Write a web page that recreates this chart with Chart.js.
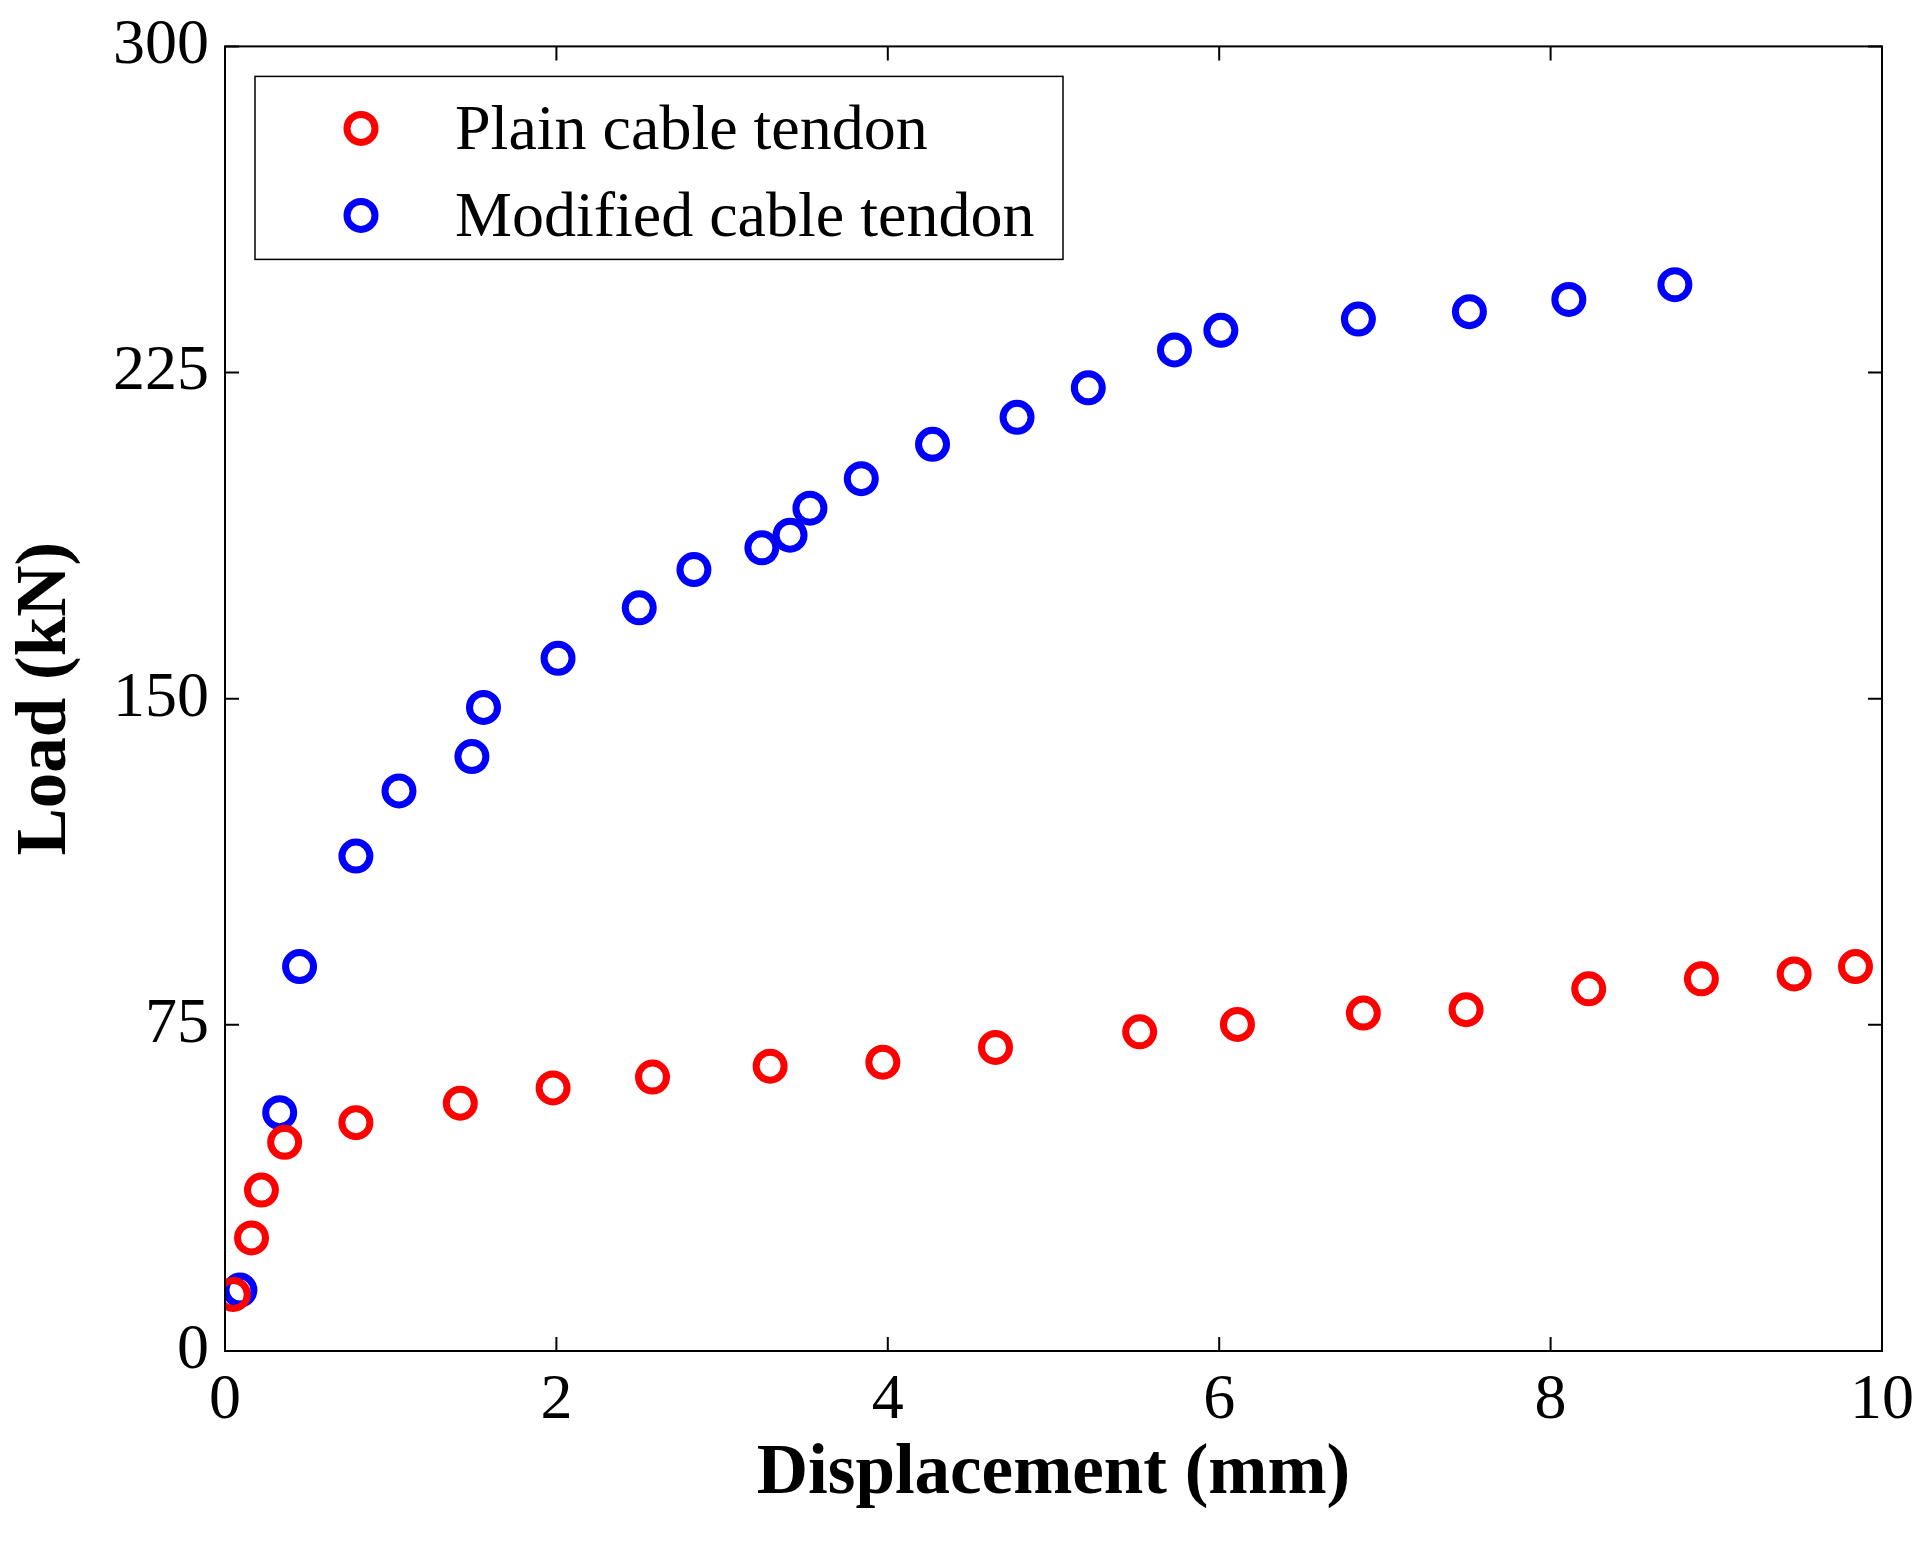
<!DOCTYPE html>
<html><head><meta charset="utf-8">
<script src="https://cdn.jsdelivr.net/npm/chart.js@4"></script>
<style>html,body{margin:0;padding:0;background:#fff}#w{width:1918px;height:1541px}</style>
</head><body><div id="w"><canvas id="c"></canvas></div>
<script>
const plainX=[0.05,0.16,0.22,0.36,0.79,1.42,1.98,2.58,3.29,3.97,4.65,5.52,6.11,6.87,7.49,8.23,8.91,9.47,9.84];
const plainY=[13,26,37,48,52.5,57,60.5,63,65.5,66.4,69.8,73.4,75.1,77.7,78.5,83.3,85.6,86.7,88.4];
const modX=[0.09,0.33,0.45,0.79,1.05,1.49,1.56,2.01,2.50,2.83,3.24,3.41,3.53,3.84,4.27,4.78,5.21,5.73,6.01,6.84,7.51,8.11,8.75];
const modY=[14,54.8,88.4,113.8,128.8,136.7,148,159.3,170.9,179.7,184.7,187.6,193.8,200.6,208.5,214.7,221.5,230.2,234.7,237.3,239,241.8,245.2];
const xTicks=[0,2,4,6,8,10];
const yTicks=[0,75,150,225,300];
const seriesNames=['Plain cable tendon','Modified cable tendon'];
const F='"Liberation Serif", "Times New Roman", serif';
const pts=(xs,ys)=>xs.map((x,i)=>({x,y:ys[i]}));
const deco={id:'deco',afterDraw(ch){
  const c=ch.ctx,a=ch.chartArea,xs=ch.scales.x,ys=ch.scales.y,L=14;
  c.save();c.strokeStyle='#000';c.lineWidth=2;
  c.strokeRect(a.left,a.top,a.right-a.left,a.bottom-a.top);
  xTicks.forEach(t=>{const p=xs.getPixelForValue(t);c.beginPath();c.moveTo(p,a.bottom);c.lineTo(p,a.bottom-L);c.moveTo(p,a.top);c.lineTo(p,a.top+L);c.stroke();});
  yTicks.forEach(t=>{const p=ys.getPixelForValue(t);c.beginPath();c.moveTo(a.left,p);c.lineTo(a.left+L,p);c.moveTo(a.right,p);c.lineTo(a.right-L,p);c.stroke();});
  const bx=a.left+30,by=a.top+30,bw=808,bh=183;
  c.fillStyle='#fff';c.fillRect(bx,by,bw,bh);c.lineWidth=1.5;c.strokeRect(bx,by,bw,bh);
  const cols=['#ff0000','#0000ff'];
  c.font='64px '+F;c.textBaseline='middle';
  seriesNames.forEach((n,i)=>{const yy=by+52+i*87;
    c.beginPath();c.lineWidth=7;c.strokeStyle=cols[i];c.arc(bx+106,yy,14,0,Math.PI*2);c.stroke();
    c.fillStyle='#000';c.fillText(n,bx+200,yy+4);});
  c.restore();
}};
new Chart(document.getElementById('c'),{
  type:'scatter',
  data:{datasets:[
    {label:seriesNames[0],data:pts(plainX,plainY),borderColor:'#ff0000',backgroundColor:'rgba(0,0,0,0)',pointRadius:14,pointBorderWidth:7,pointHoverRadius:14},
    {label:seriesNames[1],data:pts(modX,modY),borderColor:'#0000ff',backgroundColor:'rgba(0,0,0,0)',pointRadius:14,pointBorderWidth:7,pointHoverRadius:14}]},
  options:{responsive:true,maintainAspectRatio:false,animation:false,
    layout:{padding:{top:46,right:33,left:0,bottom:20}},
    plugins:{legend:{display:false},tooltip:{enabled:false}},
    scales:{
      x:{type:'linear',min:0,max:10,grid:{display:false},border:{display:false},
        afterBuildTicks(s){s.ticks=xTicks.map(v=>({value:v}));},
        afterFit(s){s.height=170;},
        ticks:{font:{family:F,size:64},color:'#000',padding:4,maxRotation:0},
        title:{display:true,text:'Displacement (mm)',font:{family:F,size:71,weight:'bold'},color:'#000',padding:{top:0}}},
      y:{type:'linear',min:0,max:300,grid:{display:false},border:{display:false},
        afterBuildTicks(s){s.ticks=yTicks.map(v=>({value:v}));},
        afterFit(s){s.width=225;},
        ticks:{font:{family:F,size:64},color:'#000',padding:8},
        title:{display:true,text:'Load (kN)',font:{family:F,size:71,weight:'bold'},color:'#000',padding:{bottom:4}}}}},
  plugins:[deco]});
</script></body></html>
